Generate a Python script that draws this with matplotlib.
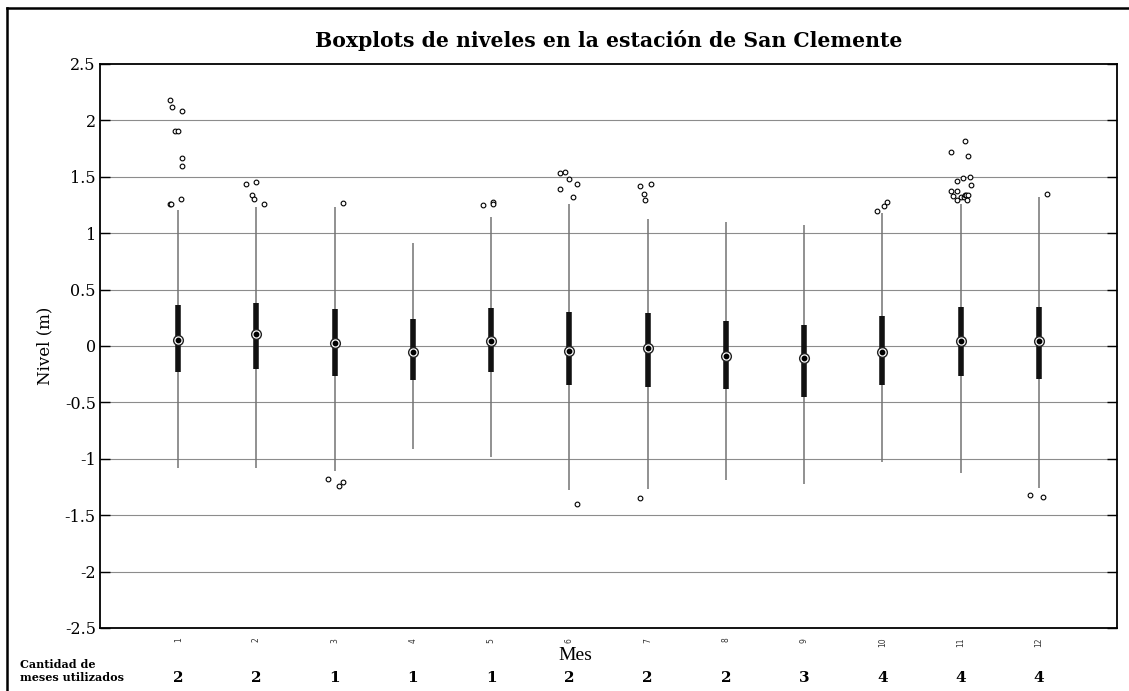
"""
Boxplots de niveles mensuales - estación San Clemente.
"""

import matplotlib
matplotlib.use("Agg")
import matplotlib.pyplot as plt
from matplotlib.lines import Line2D

# ===============================================================
# DATOS
# ===============================================================

meses = [1, 2, 3, 4, 5, 6, 7, 8, 9, 10, 11, 12]
cantidad_meses = [2, 2, 1, 1, 1, 2, 2, 2, 3, 4, 4, 4]

bigote_sup = [1.21, 1.23, 1.23, 0.91, 1.14, 1.26, 1.13, 1.10, 1.07, 1.18, 1.26, 1.32]
caja_sup = [0.36, 0.38, 0.33, 0.24, 0.34, 0.30, 0.29, 0.22, 0.19, 0.27, 0.35, 0.35]
mediana = [0.05, 0.11, 0.03, -0.05, 0.04, -0.04, -0.02, -0.09, -0.11, -0.05, 0.04, 0.04]
caja_inf = [-0.23, -0.20, -0.27, -0.30, -0.23, -0.35, -0.36, -0.38, -0.45, -0.35, -0.27, -0.29]
bigote_inf = [-1.08, -1.08, -1.11, -0.91, -0.98, -1.28, -1.27, -1.19, -1.22, -1.03, -1.13, -1.26]

# valores atípicos por mes y su desplazamiento horizontal (en unidades de mes)
atipicos = [
    [2.18, 2.12, 2.08, 1.91, 1.91, 1.67, 1.60, 1.30, 1.26, 1.26],
    [1.44, 1.45, 1.34, 1.30, 1.26],
    [1.27, -1.18, -1.21, -1.24],
    [],
    [1.25, 1.28, 1.26],
    [1.53, 1.54, 1.48, 1.44, 1.39, 1.32, -1.40],
    [1.42, 1.44, 1.35, 1.29, -1.35],
    [],
    [],
    [1.20, 1.24, 1.28],
    [1.82, 1.72, 1.68, 1.50, 1.49, 1.46, 1.43, 1.37, 1.37, 1.33,
     1.32, 1.32, 1.34, 1.34, 1.34, 1.29, 1.29],
    [1.35, -1.32, -1.34],
]
desplaz = [
    [-0.10, -0.08, 0.05, -0.04, 0.00, 0.05, 0.05, 0.03, -0.10, -0.09],
    [-0.13, 0.00, -0.06, -0.03, 0.09],
    [0.11, -0.09, 0.10, 0.06],
    [],
    [-0.10, 0.02, 0.02],
    [-0.12, -0.05, 0.00, 0.10, -0.12, 0.05, 0.10],
    [-0.10, 0.04, -0.05, -0.03, -0.10],
    [],
    [],
    [-0.07, 0.02, 0.06],
    [0.06, -0.12, 0.09, 0.12, 0.03, -0.04, 0.13, -0.12, -0.04, -0.09,
     0.00, 0.04, 0.06, 0.07, 0.09, -0.05, 0.08],
    [0.11, -0.11, 0.05],
]

# ===============================================================
# FIGURA
# ===============================================================

fig = plt.figure(figsize=(11.29, 6.91), dpi=100)
ax = fig.add_axes([100 / 1129, 1 - 628 / 691, 1017 / 1129, 564 / 691])

# marco exterior de la figura (izquierda y arriba)
fig.add_artist(Line2D([7 / 1129, 7 / 1129], [0, 1 - 8 / 691],
                      transform=fig.transFigure, color="black", lw=1.8))
fig.add_artist(Line2D([7 / 1129, 1], [1 - 8 / 691, 1 - 8 / 691],
                      transform=fig.transFigure, color="black", lw=1.8))

# cuadrícula horizontal
for y in [-2, -1.5, -1, -0.5, 0, 0.5, 1, 1.5, 2]:
    ax.axhline(y, color="0.55", lw=0.8, zorder=0)

# bigotes, cajas y medianas (estilo compacto)
ax.vlines(meses, bigote_inf, bigote_sup, color="0.45", lw=1.1, zorder=2)
ax.vlines(meses, caja_inf, caja_sup, color="#111111", lw=4.0, zorder=3)
ax.plot(meses, mediana, "o", ms=7, mfc="white", mec="#222222", mew=1.0, zorder=4)
ax.plot(meses, mediana, "o", ms=3.2, color="black", zorder=5)

for m, vals, dx in zip(meses, atipicos, desplaz):
    if not vals:
        continue
    xs = [m + d for d in dx]
    ax.plot(xs, vals, "o", ms=3.4, mfc="white", mec="black", mew=0.8, zorder=4)

ax.set_xlim(0, 13)
ax.set_ylim(-2.5, 2.5)
ax.set_yticks([-2.5, -2, -1.5, -1, -0.5, 0, 0.5, 1, 1.5, 2, 2.5])
ax.set_yticklabels(["-2.5", "-2", "-1.5", "-1", "-0.5", "0", "0.5", "1", "1.5", "2", "2.5"],
                   family="DejaVu Serif", fontsize=11.5)
ax.tick_params(axis="y", direction="in", length=7, width=1.0, right=True, pad=3)
ax.set_xticks(meses)
ax.set_xticklabels([str(m) for m in meses], rotation=90, fontsize=5.5, color="#333333")
ax.tick_params(axis="x", length=0, pad=7)
for s in ax.spines.values():
    s.set_linewidth(1.3)

ax.set_ylabel("Nivel (m)", family="DejaVu Serif", fontsize=12, labelpad=8)
ax.set_title("Boxplots de niveles en la estación de San Clemente",
             family="DejaVu Serif", fontweight="bold", fontsize=14.7, pad=12)

# etiqueta del eje x y fila de cantidad de meses
fig.text(575 / 1129, 1 - 655 / 691, "Mes", family="Liberation Serif",
         fontsize=14, ha="center", va="center")
fig.text(20 / 1129, 1 - 671 / 691, "Cantidad de\nmeses utilizados",
         family="DejaVu Serif", fontweight="bold", fontsize=8,
         ha="left", va="center", linespacing=1.15)
for m, c in zip(meses, cantidad_meses):
    x_fig = (100 + m * 1017 / 13) / 1129
    fig.text(x_fig, 1 - 678 / 691, str(c), family="DejaVu Serif",
             fontweight="bold", fontsize=11, ha="center", va="center")

fig.savefig("out.png", dpi=100)
